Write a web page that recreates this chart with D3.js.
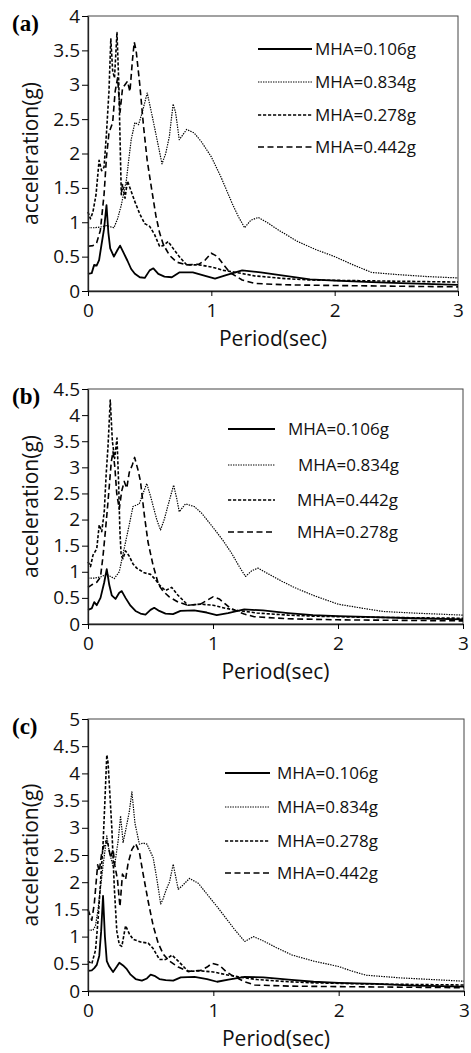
<!DOCTYPE html>
<html lang="en">
<head>
<meta charset="UTF-8">
<title>response spectra</title>
<script src="https://d3js.org/d3.v7.min.js"></script>
<style>
  body { margin: 0; background: #fff; }
  svg { display: block; }
  .tick text { font-family: "Open Sans", sans-serif; font-size: 19px; fill: #111; }
  .axis-title { font-family: "Open Sans", sans-serif; font-size: 21px; fill: #111; }
  .legend text { font-family: "Open Sans", sans-serif; font-size: 17px; fill: #111; }
  .panel-tag { font-family: "Liberation Serif", "Times New Roman", serif; font-size: 23px; font-weight: bold; }
</style>
</head>
<body>
<script>
// period (s), spectral acceleration (g)
const aSolid = [[0,0.25],[0.03,0.26],[0.05,0.38],[0.07,0.37],[0.09,0.45],[0.11,0.68],[0.13,0.9],[0.15,1.25],[0.165,0.85],[0.18,0.62],[0.21,0.5],[0.24,0.6],[0.26,0.66],[0.29,0.55],[0.32,0.44],[0.35,0.32],[0.38,0.25],[0.42,0.2],[0.46,0.19],[0.5,0.3],[0.53,0.33],[0.57,0.25],[0.62,0.21],[0.68,0.2],[0.74,0.27],[0.85,0.27],[0.95,0.22],[1.03,0.18],[1.12,0.23],[1.25,0.3],[1.4,0.27],[1.6,0.22],[1.8,0.17],[2.0,0.15],[2.3,0.13],[2.6,0.11],[3.0,0.09]];
const aDotted = [[0,0.92],[0.05,0.92],[0.1,0.93],[0.15,0.95],[0.21,0.92],[0.24,1.05],[0.27,1.25],[0.31,1.6],[0.35,2.2],[0.38,2.45],[0.41,2.42],[0.44,2.6],[0.48,2.88],[0.52,2.55],[0.56,2.2],[0.6,1.85],[0.63,2.0],[0.66,2.25],[0.69,2.72],[0.71,2.6],[0.74,2.2],[0.8,2.35],[0.86,2.3],[0.92,2.17],[1.0,1.95],[1.08,1.65],[1.17,1.27],[1.22,1.08],[1.27,0.92],[1.32,1.03],[1.38,1.07],[1.45,1.0],[1.55,0.88],[1.7,0.72],[1.85,0.6],[2.0,0.5],[2.15,0.38],[2.3,0.27],[2.5,0.24],[2.75,0.21],[3.0,0.19]];
const aShort = [[0,1.15],[0.02,1.05],[0.04,1.15],[0.065,1.4],[0.09,1.9],[0.11,1.75],[0.13,1.8],[0.15,2.3],[0.17,2.9],[0.185,3.67],[0.2,3.2],[0.215,3.1],[0.235,3.76],[0.25,3.0],[0.26,2.2],[0.27,1.4],[0.28,1.55],[0.3,1.35],[0.32,1.6],[0.35,1.45],[0.38,1.3],[0.42,1.12],[0.46,0.98],[0.5,0.94],[0.54,0.82],[0.58,0.65],[0.61,0.66],[0.65,0.72],[0.69,0.62],[0.74,0.5],[0.8,0.38],[0.9,0.38],[1.0,0.35],[1.1,0.3],[1.2,0.27],[1.35,0.22],[1.6,0.18],[1.8,0.16],[2.2,0.15],[2.6,0.14],[3.0,0.13]];
const aLong = [[0,0.65],[0.04,0.66],[0.07,0.7],[0.1,0.88],[0.13,1.4],[0.15,1.95],[0.17,2.3],[0.2,2.45],[0.22,2.9],[0.24,3.1],[0.26,2.6],[0.28,2.95],[0.3,3.0],[0.32,3.05],[0.34,2.9],[0.36,3.35],[0.375,3.62],[0.39,3.5],[0.42,3.0],[0.45,2.4],[0.48,1.9],[0.51,1.55],[0.55,1.1],[0.58,0.85],[0.61,0.68],[0.66,0.52],[0.72,0.42],[0.8,0.38],[0.9,0.39],[0.95,0.45],[1.0,0.55],[1.05,0.5],[1.1,0.38],[1.15,0.27],[1.25,0.16],[1.35,0.11],[1.6,0.09],[2.0,0.08],[2.5,0.07],[3.0,0.06]];

const bSolid = [[0,0.27],[0.03,0.3],[0.05,0.42],[0.07,0.36],[0.1,0.5],[0.13,0.8],[0.15,1.05],[0.17,0.75],[0.19,0.55],[0.22,0.48],[0.25,0.6],[0.27,0.63],[0.3,0.5],[0.34,0.35],[0.38,0.25],[0.42,0.2],[0.46,0.18],[0.5,0.27],[0.53,0.31],[0.57,0.25],[0.62,0.2],[0.68,0.19],[0.74,0.25],[0.85,0.26],[0.95,0.22],[1.03,0.17],[1.12,0.21],[1.25,0.28],[1.4,0.26],[1.6,0.21],[1.8,0.17],[2.0,0.15],[2.3,0.13],[2.6,0.11],[3.0,0.09]];
const bDotted = [[0,0.88],[0.05,0.88],[0.1,0.9],[0.15,0.95],[0.21,0.87],[0.25,1.0],[0.29,1.45],[0.33,1.9],[0.36,2.25],[0.41,2.3],[0.44,2.5],[0.47,2.69],[0.5,2.45],[0.55,2.0],[0.58,1.8],[0.61,2.0],[0.64,2.27],[0.685,2.66],[0.71,2.4],[0.73,2.15],[0.78,2.3],[0.85,2.25],[0.91,2.12],[1.0,1.85],[1.08,1.6],[1.15,1.35],[1.21,1.1],[1.26,0.91],[1.31,1.02],[1.36,1.07],[1.45,0.95],[1.55,0.82],[1.65,0.7],[1.8,0.55],[2.0,0.38],[2.2,0.3],[2.36,0.24],[2.6,0.21],[3.0,0.17]];
const bShort = [[0,1.19],[0.02,1.1],[0.04,1.32],[0.07,1.44],[0.09,1.9],[0.11,1.77],[0.13,2.15],[0.145,2.85],[0.16,3.4],[0.178,4.29],[0.195,3.5],[0.213,3.17],[0.232,3.56],[0.245,2.7],[0.255,1.8],[0.265,1.32],[0.28,1.25],[0.3,1.4],[0.33,1.3],[0.36,1.15],[0.39,1.07],[0.45,0.98],[0.5,0.95],[0.54,0.85],[0.57,0.75],[0.62,0.64],[0.67,0.7],[0.72,0.55],[0.8,0.36],[0.9,0.38],[1.0,0.36],[1.1,0.3],[1.2,0.26],[1.35,0.21],[1.6,0.17],[1.8,0.15],[2.2,0.13],[2.6,0.12],[3.0,0.11]];
const bLong = [[0,0.7],[0.03,0.75],[0.07,0.8],[0.1,0.9],[0.12,1.3],[0.14,1.8],[0.16,2.34],[0.186,3.1],[0.2,3.3],[0.215,3.0],[0.23,2.5],[0.25,2.2],[0.27,2.55],[0.29,2.73],[0.31,2.6],[0.33,2.9],[0.355,3.05],[0.373,3.19],[0.4,2.95],[0.42,2.73],[0.45,2.1],[0.48,1.57],[0.52,1.13],[0.565,0.75],[0.6,0.63],[0.65,0.52],[0.72,0.42],[0.8,0.36],[0.9,0.38],[0.95,0.45],[1.0,0.52],[1.05,0.48],[1.1,0.38],[1.14,0.3],[1.25,0.19],[1.33,0.14],[1.6,0.1],[2.0,0.08],[2.5,0.07],[3.0,0.06]];

const cSolid = [[0,0.37],[0.03,0.38],[0.05,0.42],[0.07,0.48],[0.09,0.65],[0.105,1.1],[0.12,1.75],[0.135,1.0],[0.15,0.55],[0.17,0.45],[0.2,0.35],[0.23,0.45],[0.25,0.52],[0.28,0.47],[0.31,0.4],[0.34,0.3],[0.38,0.22],[0.43,0.19],[0.47,0.23],[0.5,0.3],[0.53,0.28],[0.57,0.22],[0.62,0.2],[0.68,0.19],[0.74,0.25],[0.85,0.26],[0.95,0.22],[1.03,0.17],[1.12,0.21],[1.25,0.26],[1.4,0.25],[1.6,0.21],[1.8,0.17],[2.0,0.15],[2.3,0.13],[2.6,0.1],[3.0,0.08]];
const cDotted = [[0,1.12],[0.04,1.12],[0.06,1.2],[0.08,1.5],[0.1,1.9],[0.12,2.3],[0.15,2.85],[0.17,2.55],[0.2,2.3],[0.215,2.35],[0.24,2.75],[0.26,3.22],[0.28,2.73],[0.3,2.95],[0.33,3.3],[0.35,3.66],[0.375,3.08],[0.41,2.7],[0.44,2.72],[0.47,2.7],[0.52,2.45],[0.55,2.05],[0.58,1.6],[0.6,1.7],[0.625,1.87],[0.65,2.0],[0.68,2.33],[0.7,2.1],[0.72,1.87],[0.75,1.93],[0.81,2.07],[0.88,1.98],[0.96,1.75],[1.03,1.55],[1.09,1.37],[1.17,1.13],[1.25,0.91],[1.32,1.0],[1.4,0.92],[1.5,0.8],[1.63,0.66],[1.8,0.55],[2.0,0.45],[2.1,0.37],[2.22,0.29],[2.5,0.24],[2.75,0.21],[3.0,0.18]];
const cShort = [[0,0.55],[0.03,0.5],[0.06,0.75],[0.08,1.3],[0.1,2.0],[0.12,2.7],[0.135,3.5],[0.15,4.34],[0.16,4.2],[0.17,3.8],[0.19,3.0],[0.21,1.9],[0.23,1.1],[0.25,0.85],[0.27,0.82],[0.3,1.2],[0.33,1.05],[0.36,0.95],[0.42,0.9],[0.48,0.88],[0.52,0.78],[0.57,0.58],[0.62,0.58],[0.67,0.66],[0.72,0.55],[0.8,0.36],[0.9,0.37],[1.0,0.35],[1.1,0.3],[1.2,0.26],[1.35,0.21],[1.6,0.17],[1.8,0.15],[2.2,0.13],[2.6,0.12],[3.0,0.11]];
const cLong = [[0,1.5],[0.03,1.3],[0.05,1.6],[0.077,2.32],[0.09,2.2],[0.11,2.55],[0.14,2.75],[0.16,2.7],[0.18,2.45],[0.2,2.6],[0.215,2.3],[0.235,2.05],[0.255,1.55],[0.275,2.15],[0.3,2.05],[0.32,2.35],[0.35,2.6],[0.38,2.71],[0.41,2.55],[0.44,2.15],[0.48,1.65],[0.52,1.2],[0.56,0.88],[0.6,0.68],[0.65,0.55],[0.72,0.44],[0.8,0.36],[0.9,0.38],[0.95,0.44],[0.99,0.51],[1.05,0.47],[1.1,0.36],[1.14,0.3],[1.25,0.17],[1.33,0.11],[1.6,0.09],[2.0,0.08],[2.5,0.07],[3.0,0.06]];

const legendA = ["MHA=0.106g", "MHA=0.834g", "MHA=0.278g", "MHA=0.442g"];
const legendB = ["MHA=0.106g", "MHA=0.834g", "MHA=0.442g", "MHA=0.278g"];
const legendC = ["MHA=0.106g", "MHA=0.834g", "MHA=0.278g", "MHA=0.442g"];
const xTicks = [0, 1, 2, 3];

const W = 471, H = 1053;
const styles = [
  {width: 1.8, dash: null},
  {width: 1.2, dash: "1.4,1.1"},
  {width: 1.6, dash: "3.2,1.8"},
  {width: 1.6, dash: "6,3.5"}
];

const svg = d3.select("body").append("svg")
  .attr("width", W).attr("height", H)
  .attr("viewBox", [0, 0, W, H]);

const panels = [
  {tag: "(a)", series: [aSolid, aDotted, aShort, aLong], names: legendA, yMax: 4,
   left: 88, right: 458, top: 16, bottom: 291,
   leg: {x1: 258, x2: 312, tx: [315, 315, 315, 315], y: [49, 82, 115, 147]}},
  {tag: "(b)", series: [bSolid, bDotted, bShort, bLong], names: legendB, yMax: 4.5,
   left: 88, right: 463, top: 389, bottom: 624,
   leg: {x1: 228, x2: 275, tx: [288, 298, 297, 297], y: [429, 465, 500, 532]}},
  {tag: "(c)", series: [cSolid, cDotted, cShort, cLong], names: legendC, yMax: 5,
   left: 88, right: 464, top: 719, bottom: 991,
   leg: {x1: 225, x2: 270, tx: [277, 277, 277, 277], y: [773, 807, 841, 873]}}
];

panels.forEach(p => {
  const x = d3.scaleLinear().domain([0, 3]).range([p.left, p.right]);
  const y = d3.scaleLinear().domain([0, p.yMax]).range([p.bottom, p.top]);
  const g = svg.append("g");

  // frame
  g.append("rect")
    .attr("x", p.left).attr("y", p.top)
    .attr("width", p.right - p.left).attr("height", p.bottom - p.top)
    .attr("fill", "none").attr("stroke", "#444").attr("stroke-width", 1);

  const line = d3.line().x(d => x(d[0])).y(d => y(d[1]));
  g.selectAll("path.curve")
    .data(p.series)
    .join("path")
    .attr("class", "curve")
    .attr("fill", "none")
    .attr("stroke", "#000")
    .attr("stroke-linejoin", "round")
    .attr("stroke-width", (d, i) => styles[i].width)
    .attr("stroke-dasharray", (d, i) => styles[i].dash)
    .attr("d", line);

  const yTicks = d3.range(0, p.yMax + 0.001, 0.5);
  const yAxis = g.append("g")
    .attr("transform", `translate(${p.left},0)`)
    .call(d3.axisLeft(y).tickValues(yTicks).tickFormat(d => String(d)).tickSize(6).tickPadding(2).tickSizeOuter(0));
  yAxis.select(".domain").attr("stroke", "#222").attr("stroke-width", 1.3);

  const xAxis = g.append("g")
    .attr("transform", `translate(0,${p.bottom})`)
    .call(d3.axisBottom(x).tickValues(xTicks).tickFormat(d3.format("d")).tickSize(5).tickPadding(8).tickSizeOuter(0));
  xAxis.select(".domain").attr("stroke", "#222").attr("stroke-width", 1.3);

  g.append("text")
    .attr("class", "axis-title")
    .attr("text-anchor", "middle")
    .attr("transform", `translate(38,${(p.top + p.bottom) / 2}) rotate(-90)`)
    .text("acceleration(g)");

  g.append("text")
    .attr("class", "axis-title")
    .attr("text-anchor", "middle")
    .attr("x", (p.left + p.right) / 2)
    .attr("y", p.bottom + 55)
    .text("Period(sec)");

  g.append("text")
    .attr("class", "panel-tag")
    .attr("x", 12).attr("y", p.top + 15)
    .text(p.tag);

  const leg = g.append("g").attr("class", "legend");
  p.names.forEach((name, i) => {
    leg.append("line")
      .attr("x1", p.leg.x1).attr("x2", p.leg.x2)
      .attr("y1", p.leg.y[i]).attr("y2", p.leg.y[i])
      .attr("stroke", "#000")
      .attr("stroke-width", styles[i].width)
      .attr("stroke-dasharray", styles[i].dash);
    leg.append("text")
      .attr("x", p.leg.tx[i]).attr("y", p.leg.y[i] + 6)
      .text(name);
  });
});
</script>
</body>
</html>
